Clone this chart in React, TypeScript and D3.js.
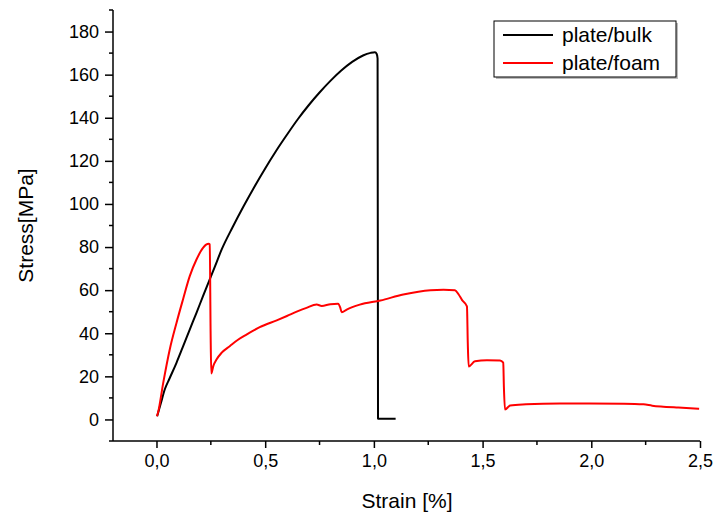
import { useRef, useEffect } from 'react';
import * as d3 from 'd3';

// plate/bulk curve (strain %, stress MPa)
const bulkStrain = [0.003, 0.02, 0.038, 0.06, 0.092, 0.12, 0.153, 0.184, 0.214, 0.245, 0.27, 0.3, 0.35, 0.4, 0.45, 0.5, 0.55, 0.6, 0.65, 0.7, 0.75, 0.8, 0.85, 0.9, 0.95, 0.985, 1.005, 1.013, 1.017, 1.019, 1.022, 1.1];
const bulkStress = [1.5, 7.5, 13.9, 19, 26.3, 33.3, 41.7, 49.5, 57.2, 65, 71.3, 78.9, 89.2, 98.8, 107.9, 116.5, 124.6, 132.1, 139.3, 145.8, 151.7, 157.1, 161.9, 165.9, 168.9, 170.1, 170.4, 169.6, 167.5, 0.4, 0.3, 0.3];

// plate/foam curve
const foamStrain = [0.002, 0.007, 0.031, 0.061, 0.092, 0.122, 0.153, 0.184, 0.214, 0.23, 0.24, 0.245, 0.249, 0.252, 0.262, 0.276, 0.3, 0.337, 0.375, 0.414, 0.475, 0.553, 0.6, 0.645, 0.69, 0.737, 0.76, 0.8, 0.835, 0.845, 0.852, 0.875, 0.935, 1.03, 1.135, 1.26, 1.32, 1.373, 1.39, 1.405, 1.428, 1.432, 1.436, 1.465, 1.52, 1.58, 1.595, 1.598, 1.603, 1.627, 1.7, 1.856, 1.99, 2.15, 2.24, 2.28, 2.32, 2.4, 2.496];
const foamStress = [1.5, 3.1, 17, 32.5, 44.8, 55.7, 66.5, 74.2, 79.6, 81.2, 81.5, 81.2, 40, 21.3, 25, 27.8, 31, 34, 37, 39.4, 42.8, 46, 48, 50, 51.8, 53.3, 52.7, 53.5, 53.7, 52, 49.7, 51, 53.3, 55.2, 58, 60, 60.2, 60, 58, 55.5, 52.5, 35, 24.6, 27, 27.5, 27.4, 26.4, 15, 4.6, 6.5, 7, 7.4, 7.4, 7.3, 7, 6.4, 6, 5.5, 5];

const xTicks = [0, 0.5, 1, 1.5, 2, 2.5];
const yTicks = [0, 20, 40, 60, 80, 100, 120, 140, 160, 180];
const legendNames = ['plate/bulk', 'plate/foam'];
const colors = ['#000000', '#ff0000'];

export default function App() {
  const ref = useRef<SVGSVGElement>(null);

  useEffect(() => {
    const w = 715, h = 521;
    const left = 113, right = 700, top = 10, bottom = 441;
    const x = d3.scaleLinear().domain([-0.2, 2.5]).range([left, right]);
    const y = d3.scaleLinear().domain([-10, 190]).range([bottom, top]);
    const font = 'Arial, "Liberation Sans", sans-serif';

    const svg = d3.select(ref.current)
      .attr('width', w).attr('height', h)
      .style('font-family', font);
    svg.selectAll('*').remove();

    // minor ticks
    const xMinor = d3.range(-0.25, 2.51, 0.25).filter(v => v >= -0.2 && !xTicks.some(t => Math.abs(t - v) < 1e-6));
    const yMinor = d3.range(-10, 191, 20);

    svg.append('g')
      .selectAll('line')
      .data(xMinor)
      .join('line')
        .attr('x1', d => x(d)).attr('x2', d => x(d))
        .attr('y1', bottom).attr('y2', bottom + 4)
        .attr('stroke', '#000').attr('stroke-width', 1.5);

    svg.append('g')
      .selectAll('line')
      .data(yMinor)
      .join('line')
        .attr('x1', left - 4).attr('x2', left)
        .attr('y1', d => y(d)).attr('y2', d => y(d))
        .attr('stroke', '#000').attr('stroke-width', 1.5);

    const xAxis = svg.append('g')
      .attr('transform', `translate(0,${bottom})`)
      .call(d3.axisBottom(x).tickValues(xTicks).tickSize(7).tickPadding(6)
        .tickFormat(d => d3.format('.1f')(d as number).replace('.', ',')));
    xAxis.select('.domain').attr('d', `M${left},0H${right}`).attr('stroke-width', 1.5);
    xAxis.selectAll('.tick line').attr('stroke-width', 1.5);
    xAxis.selectAll('text').attr('font-size', 18).attr('font-family', font).attr('fill', '#000');

    const yAxis = svg.append('g')
      .attr('transform', `translate(${left},0)`)
      .call(d3.axisLeft(y).tickValues(yTicks).tickSize(8).tickPadding(6));
    yAxis.select('.domain').attr('d', `M0,${bottom}V${top}`).attr('stroke-width', 1.5);
    yAxis.selectAll('.tick line').attr('stroke-width', 1.5);
    yAxis.selectAll('text').attr('font-size', 18).attr('font-family', font).attr('fill', '#000');

    // curves
    const line = d3.line<[number, number]>()
      .x(d => x(d[0])).y(d => y(d[1]))
      .curve(d3.curveMonotoneX);
    const series = [
      d3.zip(bulkStrain, bulkStress) as [number, number][],
      d3.zip(foamStrain, foamStress) as [number, number][],
    ];
    svg.append('g')
      .selectAll('path')
      .data(series)
      .join('path')
        .attr('d', d => line(d))
        .attr('fill', 'none')
        .attr('stroke', (_, i) => colors[i])
        .attr('stroke-width', 2)
        .attr('stroke-linejoin', 'round');

    // axis titles
    svg.append('text')
      .attr('x', 407).attr('y', 508)
      .attr('text-anchor', 'middle')
      .attr('font-size', 21)
      .text('Strain [%]');

    svg.append('text')
      .attr('transform', `translate(33,${(top + bottom) / 2}) rotate(-90)`)
      .attr('text-anchor', 'middle')
      .attr('font-size', 21)
      .text('Stress[MPa]');

    // legend
    const lg = svg.append('g');
    lg.append('rect')
      .attr('x', 496).attr('y', 23).attr('width', 182).attr('height', 56)
      .attr('fill', '#bbb');
    lg.append('rect')
      .attr('x', 494).attr('y', 21).attr('width', 182).attr('height', 56)
      .attr('fill', '#fff').attr('stroke', '#000').attr('stroke-width', 1);
    legendNames.forEach((name, i) => {
      const ly = 35 + i * 28;
      lg.append('line')
        .attr('x1', 503).attr('x2', 553)
        .attr('y1', ly).attr('y2', ly)
        .attr('stroke', colors[i]).attr('stroke-width', 2);
      lg.append('text')
        .attr('x', 562).attr('y', ly + 7)
        .attr('font-size', 21)
        .text(name);
    });
  }, []);

  return <svg ref={ref} style={{ position: 'absolute', left: 0, top: 0 }}></svg>;
}
